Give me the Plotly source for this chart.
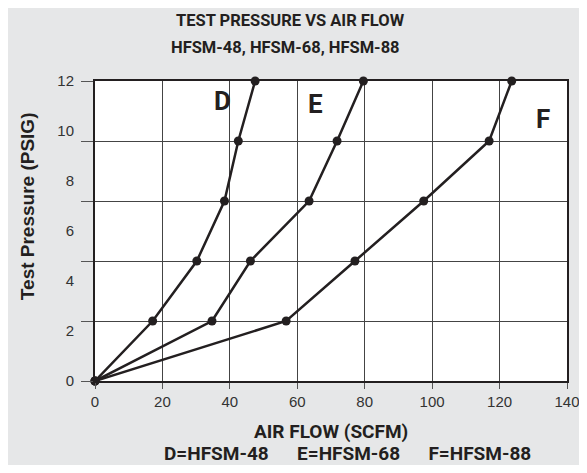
import plotly.graph_objects as go

# Data (air flow in SCFM, test pressure in axis units)
pressure = [0, 2.4, 4.8, 7.2, 9.6, 12]
flow_D = [0, 17.1, 30.2, 38.4, 42.5, 47.5]
flow_E = [0, 34.7, 46.1, 63.5, 71.8, 79.6]
flow_F = [0, 56.7, 77.1, 97.5, 116.9, 123.6]
series_names = ["D", "E", "F"]
label_pos = {"D": (37.8, 11.2), "E": (65.3, 11.1), "F": (132.9, 10.5)}

x_ticks = [0, 20, 40, 60, 80, 100, 120, 140]
y_ticks = [0, 2, 4, 6, 8, 10, 12]

INK = "#231f20"
COND = "Roboto, Liberation Sans, sans-serif"
REG = "Liberation Sans, Arial, Helvetica, sans-serif"

fig = go.Figure()
for name, xs in zip(series_names, [flow_D, flow_E, flow_F]):
    fig.add_trace(go.Scatter(
        x=xs, y=pressure, mode="lines+markers", name=name,
        line=dict(color=INK, width=2.5),
        marker=dict(color=INK, size=9),
        showlegend=False, cliponaxis=False,
    ))
# trace for label axis
fig.add_trace(go.Scatter(x=[], y=[], yaxis="y2", showlegend=False))

for name in series_names:
    lx, ly = label_pos[name]
    fig.add_annotation(x=lx, y=ly, xref="x", yref="y", text="<b>%s</b>" % name,
                       showarrow=False, xanchor="center", yanchor="middle",
                       font=dict(family=COND, size=26, color=INK))

def note(x, y, text, size, family=COND, angle=0):
    fig.add_annotation(x=x, y=y, xref="paper", yref="paper", text=text,
                       showarrow=False, xanchor="center", yanchor="middle",
                       textangle=angle, font=dict(family=family, size=size, color=INK))

sp = "&nbsp;" * 6
note(0.415, 1.203, "<b>TEST PRESSURE VS AIR FLOW</b>", 16.5)
note(0.403, 1.11, "<b>HFSM-48, HFSM-68, HFSM-88</b>", 16.5)
note(0.5, -0.168, "<b>AIR FLOW (SCFM)</b>", 19)
note(0.535, -0.243, "<b>D=HFSM-48" + sp + "E=HFSM-68" + sp + "F=HFSM-88</b>", 19)
note(-0.144, 0.583, "<b>Test Pressure (PSIG)</b>", 19, family=REG, angle=-90)

fig.update_layout(
    width=571, height=457,
    margin=dict(l=87, r=12, t=73, b=84, autoexpand=False),
    paper_bgcolor="#e6e7e8", plot_bgcolor="white",
    xaxis=dict(range=[0, 140], tickvals=x_ticks, showgrid=True, gridcolor="#444",
               gridwidth=1, zeroline=False, showline=True, linecolor=INK, linewidth=2,
               mirror=True, ticks="outside", ticklen=6, tickcolor="#555",
               automargin=False, ticklabeloverflow="allow",
               tickfont=dict(family=REG, size=15, color="#333")),
    yaxis=dict(range=[0, 12], dtick=2.4, tick0=0, showgrid=True, gridcolor="#444",
               gridwidth=1, zeroline=False, showline=True, linecolor=INK, linewidth=2,
               mirror=True, ticks="outside", ticklen=12, tickcolor="#555",
               automargin=False, showticklabels=False),
    yaxis2=dict(range=[0, 12], tickvals=y_ticks, overlaying="y", side="left",
                showgrid=False, zeroline=False, showline=False, ticks="",
                ticklabelstandoff=20, automargin=False, ticklabeloverflow="allow",
                tickfont=dict(family=REG, size=15, color="#333")),
)

fig.write_html("out.html")
